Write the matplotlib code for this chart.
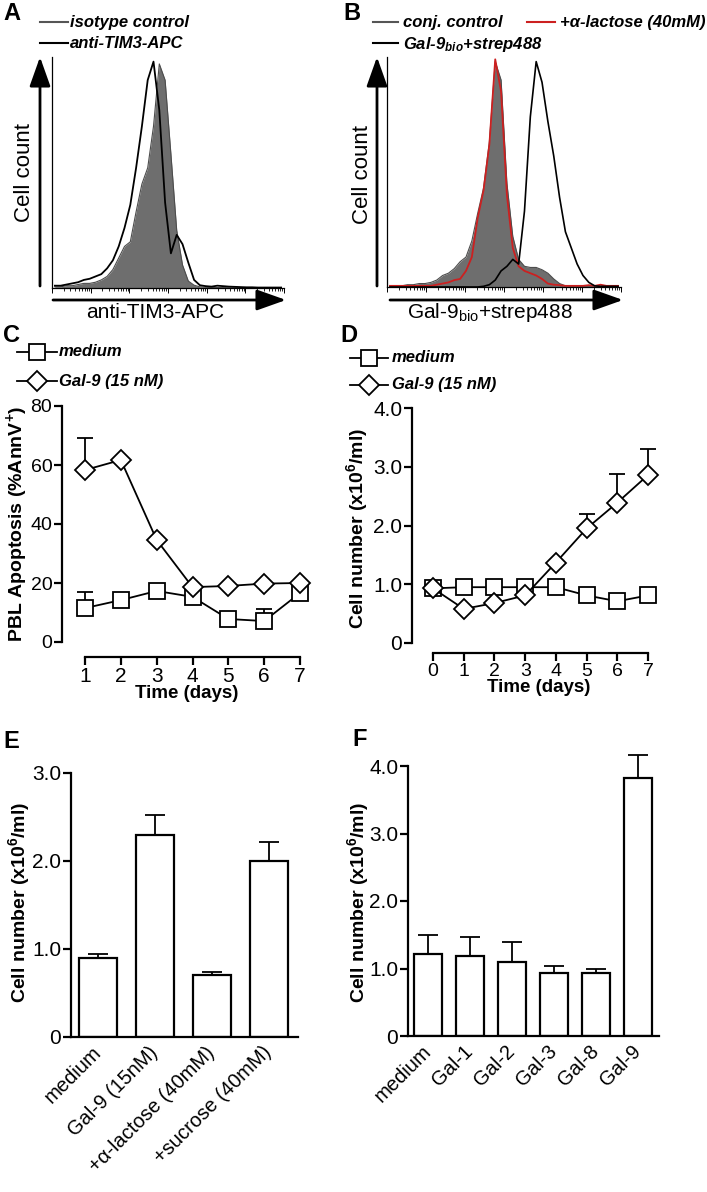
import numpy as np
import matplotlib
matplotlib.use("Agg")
import matplotlib.pyplot as plt
from matplotlib.lines import Line2D
from matplotlib.patches import FancyArrowPatch
from matplotlib.ticker import LogLocator, NullFormatter

W, H = 707, 1192

plt.rcParams["font.family"] = ["Liberation Sans", "DejaVu Sans"]
plt.rcParams["mathtext.fontset"] = "custom"
plt.rcParams["mathtext.rm"] = "Liberation Sans"
plt.rcParams["mathtext.it"] = "Liberation Sans:italic"
plt.rcParams["mathtext.bf"] = "Liberation Sans:bold"
plt.rcParams["mathtext.bfit"] = "Liberation Sans:bold:italic"

# --- A: flow histograms (normalised counts per channel bin, 40 log bins) ---
hist_A_isotype = [0.005, 0.005, 0.01, 0.01, 0.015, 0.02, 0.02, 0.025, 0.035, 0.05,
                  0.08, 0.13, 0.18, 0.2, 0.33, 0.45, 0.52, 0.7, 0.97, 0.9,
                  0.58, 0.25, 0.1, 0.03, 0.012, 0.005, 0.003, 0.002, 0.002, 0.002,
                  0.001, 0.001, 0.001, 0.001, 0.001, 0.001, 0.001, 0.001, 0.001, 0.001]
hist_A_tim3 = [0.01, 0.01, 0.015, 0.02, 0.025, 0.035, 0.04, 0.05, 0.06, 0.085,
               0.12, 0.18, 0.26, 0.36, 0.52, 0.7, 0.9, 0.98, 0.77, 0.37,
               0.15, 0.23, 0.19, 0.11, 0.035, 0.012, 0.008, 0.006, 0.01, 0.008,
               0.006, 0.005, 0.004, 0.003, 0.003, 0.002, 0.002, 0.002, 0.002, 0.002]
# --- B ---
hist_B_conj = [0.005, 0.005, 0.005, 0.01, 0.01, 0.015, 0.015, 0.02, 0.03, 0.05,
               0.06, 0.08, 0.11, 0.13, 0.2, 0.32, 0.43, 0.63, 0.98, 0.9,
               0.45, 0.22, 0.12, 0.09, 0.085, 0.085, 0.075, 0.06, 0.035, 0.015,
               0.005, 0.003, 0.003, 0.003, 0.003, 0.003, 0.003, 0.003, 0.003, 0.003]
hist_B_lactose = [0.005, 0.005, 0.005, 0.005, 0.005, 0.005, 0.005, 0.005, 0.01, 0.015,
                  0.02, 0.03, 0.035, 0.07, 0.13, 0.3, 0.42, 0.62, 0.99, 0.85,
                  0.4, 0.17, 0.09, 0.07, 0.06, 0.05, 0.035, 0.015, 0.01, 0.008,
                  0.005, 0.005, 0.005, 0.005, 0.008, 0.005, 0.01, 0.005, 0.005, 0.005]
hist_B_gal9 = [0, 0, 0, 0, 0, 0, 0, 0, 0, 0,
               0, 0, 0, 0, 0, 0, 0.003, 0.01, 0.03, 0.07,
               0.09, 0.12, 0.1, 0.33, 0.74, 0.98, 0.89, 0.72, 0.57, 0.39,
               0.24, 0.17, 0.1, 0.05, 0.02, 0.005, 0.003, 0.003, 0.003, 0.003]

# --- C: apoptosis time course ---
days_C = [1, 2, 3, 4, 5, 6, 7]
apop_medium = [11.5, 14.2, 17.3, 15.3, 7.8, 7.1, 16.6]
apop_medium_err = [5.5, 0, 0, 0, 0, 4.1, 0]
apop_gal9 = [58.3, 61.7, 34.6, 18.6, 19.0, 19.8, 20.0]
apop_gal9_err = [10.7, 0, 0, 0, 0, 0, 0]

# --- D: cell number time course ---
days_D = [0, 1, 2, 3, 4, 5, 6, 7]
cells_medium = [0.93, 0.95, 0.95, 0.95, 0.95, 0.81, 0.71, 0.81]
cells_gal9 = [0.93, 0.58, 0.68, 0.81, 1.37, 1.95, 2.39, 2.86]
cells_gal9_err = [0, 0, 0, 0, 0, 0.25, 0.49, 0.44]

# --- E, F: bar charts ---
E_labels = ["medium", "Gal-9 (15nM)", "+α-lactose (40mM)", "+sucrose (40mM)"]
E_values = [0.9, 2.3, 0.7, 2.0]
E_err = [0.04, 0.22, 0.04, 0.22]
F_labels = ["medium", "Gal-1", "Gal-2", "Gal-3", "Gal-8", "Gal-9"]
F_values = [1.22, 1.19, 1.09, 0.94, 0.94, 3.82]
F_err = [0.28, 0.27, 0.31, 0.1, 0.05, 0.35]

fig = plt.figure(figsize=(W / 100, H / 100), dpi=100)


def box(left, top, right, bottom):
    return [left / W, 1 - bottom / H, (right - left) / W, (bottom - top) / H]


def pt(x, y):
    return x / W, 1 - y / H


def ftext(x, y, s, **kw):
    fig.text(*pt(x, y), s, **kw)


def arrow(x0, y0, x1, y1):
    fig.add_artist(FancyArrowPatch(pt(x0, y0), pt(x1, y1), transform=fig.transFigure,
                                   arrowstyle="-|>,head_length=0.9,head_width=0.32",
                                   mutation_scale=20, lw=2, color="black",
                                   shrinkA=0, shrinkB=0))


def hist_axes(b):
    ax = fig.add_axes(box(*b))
    ax.set_xscale("log")
    ax.set_xlim(1, 1e6)
    ax.set_ylim(0, 1.0)
    ax.spines[["top", "right"]].set_visible(False)
    ax.spines[["left", "bottom"]].set_linewidth(0.9)
    ax.set_yticks([])
    ax.xaxis.set_major_locator(LogLocator(base=10, numticks=10))
    ax.xaxis.set_minor_locator(LogLocator(base=10, subs=np.arange(2, 10), numticks=100))
    ax.xaxis.set_major_formatter(NullFormatter())
    ax.xaxis.set_minor_formatter(NullFormatter())
    ax.tick_params(axis="x", which="major", length=3.5, width=0.7)
    ax.tick_params(axis="x", which="minor", length=2.2, width=0.6)
    return ax


def centers(n):
    e = np.logspace(0, 6, n + 1)
    return np.sqrt(e[:-1] * e[1:])


def legend_line(x0, x1, y, color, lw=1.5, marker=None):
    xm = (x0 + x1) / 2
    xs = [x0 / W, xm / W, x1 / W]
    ys = [1 - y / H] * 3
    ln = Line2D(xs, ys, transform=fig.transFigure, color=color, lw=lw)
    if marker:
        ln.set_marker(marker[0])
        ln.set_markersize(marker[1])
        ln.set_markevery([1])
        ln.set_markerfacecolor("white")
        ln.set_markeredgecolor("black")
        ln.set_markeredgewidth(1.3)
    fig.add_artist(ln)


GRAY_FILL = "#6e6e6e"
RED = "#cc2020"
LEG = dict(fontsize=12, fontweight="bold", fontstyle="italic", va="center", ha="left")
LETTER = dict(fontsize=17, fontweight="bold", ha="center", va="center")

# ---------------- A ----------------
axA = hist_axes((52, 57, 284, 288))
c = centers(len(hist_A_isotype))
axA.fill_between(c, hist_A_isotype, color=GRAY_FILL, lw=0)
axA.plot(c, hist_A_isotype, color="#4d4d4d", lw=0.8)
axA.plot(c, hist_A_tim3, color="black", lw=1.3)
arrow(40, 286, 40, 57)
arrow(53, 300, 286, 300)
ftext(25, 172, "Cell count", fontsize=16, rotation=90, ha="center", va="center")
ftext(155, 312, "anti-TIM3-APC", fontsize=15, ha="center", va="center")
legend_line(40, 68, 22, "#555555")
ftext(70, 22, "isotype control", **LEG)
legend_line(40, 68, 43, "black")
ftext(70, 43, "anti-TIM3-APC", **LEG)
ftext(12, 14, "A", **LETTER)

# ---------------- B ----------------
axB = hist_axes((387, 57, 621, 287))
c = centers(len(hist_B_conj))
axB.fill_between(c, hist_B_conj, color=GRAY_FILL, lw=0)
axB.plot(c, hist_B_conj, color="#4d4d4d", lw=0.8)
axB.plot(c, hist_B_lactose, color=RED, lw=1.3)
axB.plot(c, hist_B_gal9, color="black", lw=1.2)
arrow(377, 286, 377, 57)
arrow(390, 300, 623, 300)
ftext(363, 175, "Cell count", fontsize=16, rotation=90, ha="center", va="center")
ftext(490, 312, r"Gal-9$_{\mathrm{bio}}$+strep488", fontsize=15, ha="center", va="center")
legend_line(373, 398, 22, "#555555")
ftext(403, 22, "conj. control", **LEG)
legend_line(527, 555, 22, RED)
ftext(560, 22, "+α-lactose (40mM)", **LEG)
legend_line(373, 398, 43, "black")
ftext(403, 44, r"Gal-9$_{\mathbfit{bio}}$+strep488", **LEG)
ftext(352, 14, "B", **LETTER)


def prism_axes(b, xlim, ylim, offset):
    ax = fig.add_axes(box(*b))
    ax.set_xlim(*xlim)
    ax.set_ylim(*ylim)
    ax.spines[["top", "right"]].set_visible(False)
    ax.spines[["left", "bottom"]].set_linewidth(1.6)
    if offset:
        ax.spines["bottom"].set_position(("outward", offset))
    ax.tick_params(width=1.6, length=6, labelsize=15, pad=1)
    return ax


SQ = dict(marker="s", ms=11.5, mfc="white", mec="black", mew=1.3, color="black",
          lw=1.3, clip_on=False)
DM = dict(marker="D", ms=10, mfc="white", mec="black", mew=1.3, color="black",
          lw=1.3, clip_on=False)
EB = dict(fmt="none", ecolor="black", elinewidth=1.3, capthick=1.3, clip_on=False)
YLAB = dict(fontsize=14, fontweight="bold", rotation=90, ha="center", va="center")

# ---------------- C ----------------
axC = prism_axes((62, 406, 312, 642), (0.358, 7.335), (0, 80), 11)
axC.spines["bottom"].set_bounds(1, 7)
axC.set_xticks(days_C)
axC.set_yticks([0, 20, 40, 60, 80])
axC.tick_params(axis="y", labelsize=14)
axC.errorbar(days_C, apop_medium, yerr=[np.zeros(7), apop_medium_err], capsize=5.5,
             zorder=1, **EB)
axC.errorbar(days_C, apop_gal9, yerr=[np.zeros(7), apop_gal9_err], capsize=5.5,
             zorder=1, **EB)
axC.plot(days_C, apop_medium, zorder=3, **SQ)
axC.plot(days_C, apop_gal9, zorder=4, **DM)
axC.set_xlabel("Time (days)", fontsize=13.5, fontweight="bold", labelpad=-1)
ftext(17, 524, "PBL Apoptosis (%AnnV$^{\\mathbf{+}}$)", **YLAB)
legend_line(17, 57, 352, "black", lw=1.3, marker=("s", 11.5))
ftext(59, 352, "medium", **LEG)
legend_line(17, 57, 381, "black", lw=1.3, marker=("D", 10))
ftext(59, 381, "Gal-9 (15 nM)", **LEG)
ftext(12, 336, "C", **LETTER)

# ---------------- D ----------------
axD = prism_axes((412, 408, 665, 643), (-0.684, 7.55), (0, 4), 7.5)
axD.spines["bottom"].set_bounds(0, 7)
axD.set_xticks(days_D)
axD.tick_params(axis="x", labelsize=14)
axD.set_yticks([0, 1, 2, 3, 4])
axD.set_yticklabels(["0", "1.0", "2.0", "3.0", "4.0"])
axD.errorbar(days_D, cells_gal9, yerr=[np.zeros(8), cells_gal9_err], capsize=5.5,
             zorder=1, **EB)
axD.plot(days_D, cells_medium, zorder=3, **SQ)
axD.plot(days_D, cells_gal9, zorder=4, **DM)
axD.set_xlabel("Time (days)", fontsize=13.5, fontweight="bold", labelpad=-1)
ftext(357, 528, "Cell number (x10$^{\\mathbf{6}}$/ml)", **YLAB)
legend_line(350, 388, 358, "black", lw=1.3, marker=("s", 11.5))
ftext(392, 358, "medium", **LEG)
legend_line(350, 388, 385, "black", lw=1.3, marker=("D", 10))
ftext(392, 385, "Gal-9 (15 nM)", **LEG)
ftext(349, 336, "D", **LETTER)


def bar_panel(b, xlim, ylim, labels, values, err, yticks, yticklabels, capsize):
    ax = prism_axes(b, xlim, ylim, 0)
    x = np.arange(len(labels))
    ax.bar(x, values, width=0.67, color="white", edgecolor="black", lw=1.6, zorder=2)
    ax.errorbar(x, values, yerr=[np.zeros(len(x)), err], capsize=capsize, zorder=1, **EB)
    ax.set_yticks(yticks)
    ax.set_yticklabels(yticklabels)
    ax.set_xticks(x)
    ax.set_xticklabels(labels, rotation=45, ha="right", va="center",
                       rotation_mode="anchor", fontsize=14.5)
    ax.tick_params(axis="x", length=0, pad=9)
    return ax


# ---------------- E ----------------
bar_panel((71, 773, 298, 1037), (-0.474, 3.51), (0, 3), E_labels, E_values, E_err,
          [0, 1, 2, 3], ["0", "1.0", "2.0", "3.0"], 7)
ftext(19, 902, "Cell number (x10$^{\\mathbf{6}}$/ml)", **YLAB)
ftext(11, 741, "E", **LETTER)

# ---------------- F ----------------
bar_panel((408, 766, 659, 1036), (-0.475, 5.49), (0, 4), F_labels, F_values, F_err,
          [0, 1, 2, 3, 4], ["0", "1.0", "2.0", "3.0", "4.0"], 7.5)
ftext(358, 902, "Cell number (x10$^{\\mathbf{6}}$/ml)", **YLAB)
ftext(360, 739, "F", **LETTER)

fig.savefig("out.png", dpi=100)
